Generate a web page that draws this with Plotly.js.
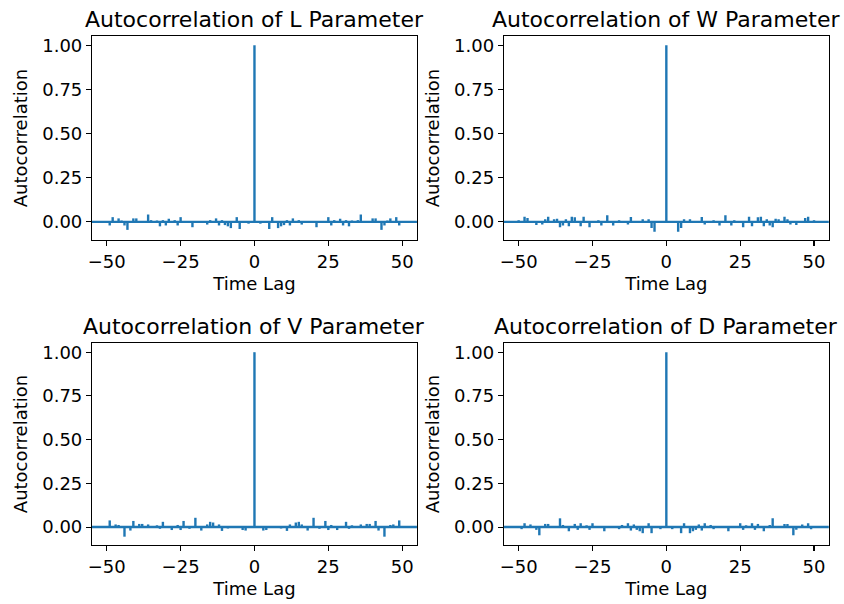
<!DOCTYPE html>
<html>
<head>
<meta charset="utf-8">
<script src="https://cdn.plot.ly/plotly-3.0.1.min.js"></script>
<style>html,body{margin:0;padding:0;background:#fff;}#chart{width:844px;height:604px;}</style>
</head>
<body>
<div id="chart"></div>
<script>
// Autocorrelation values for lags 1..50 (acf is symmetric: lag -k equals lag k; lag 0 = 1)
const paramNames = ["L", "W", "V", "D"];
const acfL = [0.002, -0.010, 0.003, 0.000, -0.040, 0.027, 0.003, -0.035, -0.025, -0.018,
              0.010, -0.020, 0.020, -0.006, 0.010, -0.015, 0.000, 0.004, -0.004, 0.002,
              -0.030, 0.003, -0.004, 0.002, 0.027, -0.020, 0.010, -0.004, 0.018, -0.020,
              0.010, -0.025, 0.008, -0.004, 0.010, 0.042, 0.003, -0.003, 0.002, 0.020,
              0.020, -0.004, -0.045, -0.020, 0.008, 0.020, 0.003, 0.027, -0.020, 0.001];
const acfW = [0.002, 0.003, -0.004, -0.055, -0.035, 0.015, 0.002, 0.015, 0.003, -0.006,
              0.002, 0.028, -0.015, 0.003, 0.002, 0.010, 0.003, -0.020, 0.003, 0.038,
              0.002, -0.020, 0.010, -0.006, 0.003, -0.030, 0.002, 0.030, -0.025, 0.003,
              0.026, 0.030, -0.025, 0.015, -0.020, -0.030, 0.018, 0.015, 0.004, 0.030,
              0.015, -0.015, 0.003, -0.018, 0.002, 0.004, 0.022, 0.030, 0.003, 0.010];
const acfV = [0.003, 0.002, -0.020, -0.017, 0.003, 0.002, -0.003, 0.002, -0.008, 0.002,
              -0.022, 0.015, 0.003, 0.026, 0.030, 0.015, 0.003, -0.020, 0.003, 0.053,
              0.002, -0.010, 0.002, 0.035, -0.017, 0.012, 0.003, -0.017, 0.002, 0.003,
              0.030, -0.010, 0.010, 0.003, 0.004, 0.015, 0.002, 0.018, 0.018, 0.003,
              0.035, -0.020, 0.003, -0.055, 0.002, 0.012, 0.015, 0.003, 0.038, 0.004];
const acfD = [0.002, -0.012, 0.003, 0.000, -0.035, 0.022, 0.003, -0.035, -0.024, -0.016,
              0.015, -0.020, 0.022, -0.004, 0.012, -0.012, 0.000, 0.004, 0.003, 0.003,
              -0.024, 0.003, -0.004, 0.002, 0.022, -0.016, 0.010, -0.004, 0.022, -0.016,
              0.018, -0.004, -0.024, 0.003, 0.012, 0.050, 0.003, -0.003, 0.002, 0.018,
              0.018, -0.004, -0.047, -0.016, 0.003, 0.015, 0.003, 0.022, -0.012, 0.001];
const acfSeries = [acfL, acfW, acfV, acfD];
const maxLag = 50;
const xTicks = [-50, -25, 0, 25, 50];
const yTicks = [0, 0.25, 0.5, 0.75, 1.0];

const blue = "#1f77b4";
const FONT = "DejaVu Sans, sans-serif";

const domainsX = [[0.109, 0.494], [0.597, 0.982], [0.109, 0.494], [0.597, 0.982]];
const domainsY = [[0.6026, 0.9404], [0.6026, 0.9404], [0.0977, 0.4321], [0.0977, 0.4321]];

const traces = [];
const layout = {
  width: 844, height: 604,
  margin: {l: 0, r: 0, t: 0, b: 0},
  paper_bgcolor: "#fff", plot_bgcolor: "#fff",
  showlegend: false,
  font: {family: FONT, size: 18, color: "#000"},
  annotations: [], shapes: []
};

acfSeries.forEach((vals, i) => {
  // full symmetric acf from lag -50..50
  const lags = [], acf = [];
  for (let k = -maxLag; k <= maxLag; k++) {
    lags.push(k);
    acf.push(k === 0 ? 1.0 : vals[Math.abs(k) - 1]);
  }
  const xs = [], ys = [];
  lags.forEach((k, j) => { xs.push(k, k, null); ys.push(0, acf[j], null); });
  const n = i + 1;
  const xa = n === 1 ? "x" : "x" + n;
  const ya = n === 1 ? "y" : "y" + n;
  traces.push({
    x: xs, y: ys, xaxis: xa, yaxis: ya, type: "scatter", mode: "lines",
    line: {color: blue, width: 2.4}, hoverinfo: "skip", connectgaps: false
  });
  const axX = {
    domain: domainsX[i], anchor: ya, range: [-55, 55],
    tickmode: "array", tickvals: xTicks, ticktext: xTicks.map(v => v < 0 ? "\u2212" + Math.abs(v) : String(v)),
    ticks: "outside", ticklen: 5, tickwidth: 1.1, tickcolor: "#000",
    showline: true, linecolor: "#000", linewidth: 1.1, mirror: true,
    showgrid: false, zeroline: false,
    tickfont: {family: FONT, size: 18, color: "#000"},
    title: {text: "Time Lag", font: {family: FONT, size: 18, color: "#000"}, standoff: 6}
  };
  const axY = {
    domain: domainsY[i], anchor: xa, range: [-0.1025, 1.0525],
    tickmode: "array", tickvals: yTicks, ticktext: yTicks.map(v => v.toFixed(2)),
    ticks: "outside", ticklen: 5, tickwidth: 1.1, tickcolor: "#000",
    showline: true, linecolor: "#000", linewidth: 1.1, mirror: true,
    showgrid: false, zeroline: false,
    tickfont: {family: FONT, size: 18, color: "#000"},
    title: {text: "Autocorrelation", font: {family: FONT, size: 18, color: "#000"}, standoff: 9}
  };
  layout[n === 1 ? "xaxis" : "xaxis" + n] = axX;
  layout[n === 1 ? "yaxis" : "yaxis" + n] = axY;
  layout.shapes.push({
    type: "line", xref: xa + " domain", yref: ya, x0: 0, x1: 1, y0: 0, y1: 0,
    line: {color: blue, width: 2.4}, layer: "above"
  });
  layout.annotations.push({
    text: "Autocorrelation of " + paramNames[i] + " Parameter",
    xref: xa + " domain", yref: ya + " domain", x: 0.5, y: 1,
    xanchor: "center", yanchor: "bottom", yshift: 2, showarrow: false,
    font: {family: FONT, size: 22, color: "#000"}
  });
});

Plotly.newPlot("chart", traces, layout, {staticPlot: true, displayModeBar: false});
</script>
</body>
</html>
